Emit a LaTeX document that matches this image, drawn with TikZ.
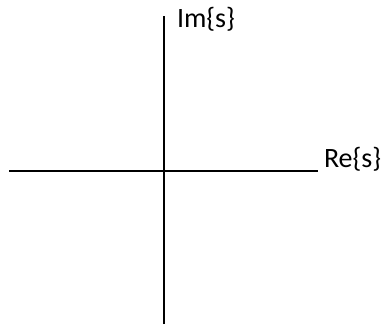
\documentclass[tikz,border=0pt]{standalone}
\usepackage{fontspec}
\setmainfont{Carlito}
\begin{document}
\begin{tikzpicture}[x=1pt,y=1pt,line width=2pt,
  axislabel/.style={anchor=base west,inner sep=0pt,font=\fontsize{28}{30}\selectfont}]
  \useasboundingbox (0,0) rectangle (386,325);
  % axes
  \coordinate (left) at (9,154);
  \coordinate (right) at (318,154);
  \coordinate (top) at (163.5,309);
  \coordinate (bottom) at (163.5,1);
  \draw (left) -- (right);
  \draw (bottom) -- (top);
  \node[axislabel] (re) at (323,158) {Re\{s\}};
  \node[axislabel] (im) at (176,298) {Im\{s\}};
\end{tikzpicture}
\end{document}
